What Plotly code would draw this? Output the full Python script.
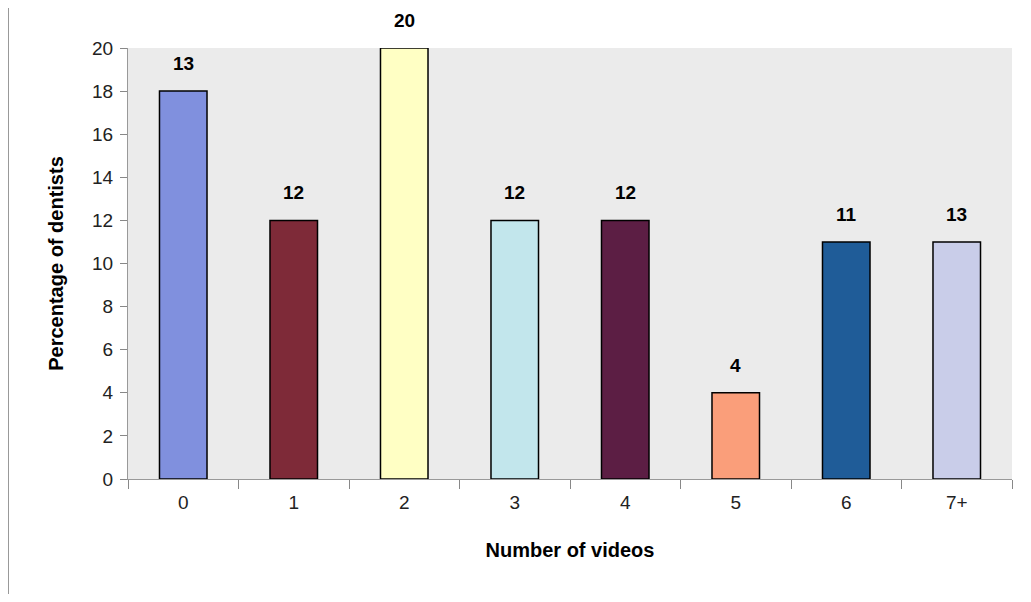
import plotly.graph_objects as go

categories = ["0", "1", "2", "3", "4", "5", "6", "7+"]
bar_heights = [18, 12, 20, 12, 12, 4, 11, 11]
bar_labels = ["13", "12", "20", "12", "12", "4", "11", "13"]
bar_colors = ["#8090de", "#7e2a38", "#ffffc4", "#c2e6ec", "#5c1e44", "#fa9e7a", "#1f5c98", "#c9cde9"]
y_ticks = [0, 2, 4, 6, 8, 10, 12, 14, 16, 18, 20]

FONT = "Liberation Sans, Arial"

fig = go.Figure(go.Bar(
    x=categories, y=bar_heights,
    marker=dict(color=bar_colors, line=dict(color="black", width=1.5)),
    width=0.43,
))

for cat, h, lab in zip(categories, bar_heights, bar_labels):
    fig.add_annotation(x=cat, y=h, text=f"<b>{lab}</b>", showarrow=False,
                       yanchor="bottom", yshift=15,
                       font=dict(family=FONT, size=19, color="black"))

# page body has an 8px margin, so the figure is sized/offset to compensate
fig.update_layout(
    width=1015, height=586,
    margin=dict(l=120, r=11, t=40, b=115, autoexpand=False),
    paper_bgcolor="white", plot_bgcolor="#ebebeb",
    font=dict(family=FONT, size=19, color="black"),
    showlegend=False,
)
fig.update_yaxes(range=[0, 20], tickvals=y_ticks, ticks="outside", ticklen=7,
                 tickcolor="#888", showgrid=False, zeroline=False, automargin=False,
                 showline=True, linecolor="#999", linewidth=1,
                 ticklabelstandoff=3,
                 tickfont=dict(family=FONT, size=19, color="#222"),
                 title=dict(text="<b>Percentage of dentists</b>", standoff=23,
                            font=dict(family=FONT, size=20, color="black")))
fig.update_xaxes(ticks="outside", ticklen=9, tickcolor="#888", tickson="boundaries",
                 showgrid=False, showline=True, linecolor="#999", linewidth=1,
                 automargin=False, ticklabelstandoff=6,
                 tickfont=dict(family=FONT, size=19, color="#222"),
                 title=dict(text="<b>Number of videos</b>", standoff=31,
                            font=dict(family=FONT, size=20, color="black")))
fig.add_shape(type="line", xref="paper", yref="paper", x0=-120/884, x1=-120/884,
              y0=-0.3, y1=1.12, line=dict(color="#999", width=2))
fig.write_html("out.html")
